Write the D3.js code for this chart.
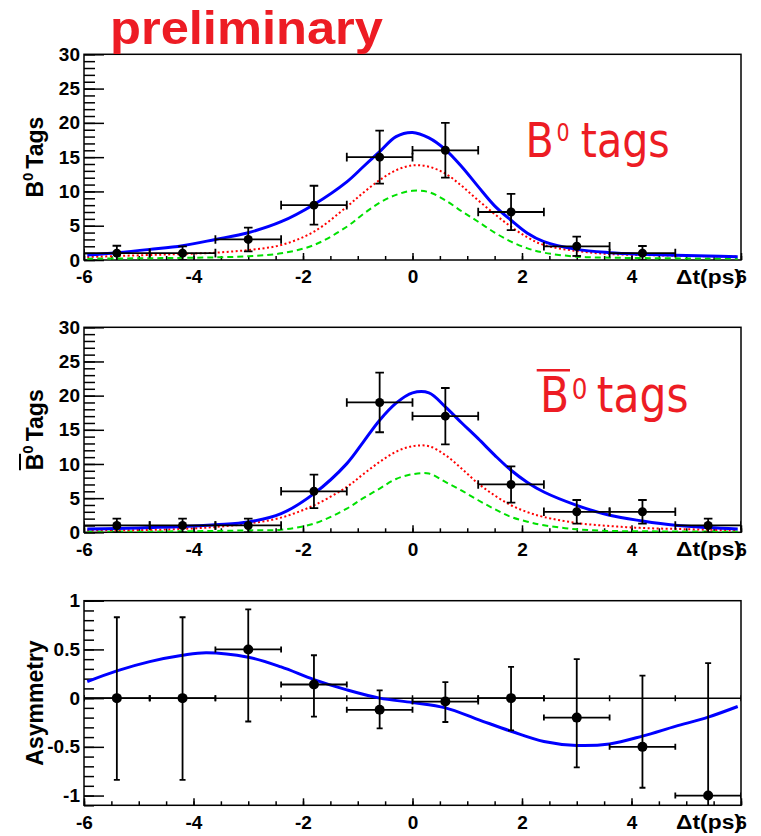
<!DOCTYPE html>
<html>
<head>
<meta charset="utf-8">
<script src="https://cdn.jsdelivr.net/npm/d3@7"></script>
<style>
  body { margin: 0; background: #fff; }
  svg { display: block; font-family: "Liberation Sans", Arial, sans-serif; }
  .tick text { font-family: "Liberation Sans", Arial, sans-serif; font-weight: bold; font-size: 19px; fill: #000; }
  .tick line { stroke: #000; stroke-width: 1.5; }
</style>
</head>
<body>
<svg id="chart" width="761" height="836"></svg>
<script>
// ---- data ----
const binCenters = [-5.4, -4.2, -3.0, -1.8, -0.6, 0.6, 1.8, 3.0, 4.2, 5.4];
const binXErr = 0.6;

// B0 tags (top)
const b0Counts = [1, 1, 3, 8, 15, 16, 7, 2, 1, null];
const b0Err    = [1.08, 1, 1.73, 2.83, 3.87, 4, 2.65, 1.41, 1.04, null];

// B0bar tags (middle)
const b0barCounts = [1, 1, 1, 6, 19, 17, 7, 3, 3, 1];
const b0barErr    = [1, 1, 1, 2.45, 4.36, 4.12, 2.65, 1.73, 1.73, 1];

// asymmetry (bottom)
const asymValues  = [0, 0, 0.5, 0.14, -0.12, -0.035, 0, -0.2, -0.5, -1.0];
const asymErrUp   = [0.83, 0.83, 0.41, 0.30, 0.20, 0.20, 0.32, 0.60, 0.73, 1.36];
const asymErrDown = [0.84, 0.84, 0.74, 0.33, 0.19, 0.21, 0.33, 0.51, 0.42, 0.5];

// fit curves
const curveX = [-5.94, -5.4, -4.8, -4.2, -3.6, -3.0, -2.4, -1.8, -1.2, -0.9, -0.6, -0.3, 0,
                0.3, 0.6, 0.9, 1.2, 1.5, 1.8, 2.1, 2.4, 3.0, 3.6, 4.2, 4.8, 5.4, 5.94];
const b0Total  = [0.73, 1.07, 1.55, 2.09, 3.0, 3.98, 5.58, 8.1, 11.4, 13.6, 15.8, 18.0, 18.6,
                  17.8, 16.1, 13.6, 10.7, 7.9, 5.8, 3.9, 2.67, 1.55, 1.07, 0.83, 0.68, 0.58, 0.49];
const b0Red    = [0.44, 0.58, 0.73, 0.88, 1.07, 1.46, 2.18, 4.13, 7.77, 9.8, 11.65, 13.1, 13.8,
                  13.6, 12.6, 10.8, 8.7, 6.7, 4.85, 3.3, 2.18, 1.31, 0.87, 0.73, 0.63, 0.55, 0.49];
const b0Green  = [0.2, 0.22, 0.26, 0.31, 0.39, 0.55, 0.97, 2.18, 4.85, 6.7, 8.35, 9.5, 10.1,
                  9.9, 8.7, 7.1, 5.58, 4.0, 2.67, 1.7, 1.07, 0.49, 0.34, 0.28, 0.24, 0.22, 0.2];
const b0barTotal = [0.5, 0.55, 0.69, 0.85, 1.12, 1.51, 2.73, 5.66, 10.05, 13.2, 16.4, 18.9, 20.4,
                    20.4, 18.35, 16.0, 13.7, 11.3, 9.08, 7.3, 5.9, 3.95, 2.49, 1.66, 1.03, 0.69, 0.49];
const b0barRed   = [0.3, 0.3, 0.35, 0.5, 0.78, 1.27, 2.15, 3.95, 6.64, 8.5, 10.3, 11.8, 12.6,
                    12.6, 11.3, 9.3, 7.14, 5.4, 3.96, 2.95, 2.24, 1.36, 0.92, 0.63, 0.49, 0.38, 0.29];
const b0barGreen = [0.1, 0.1, 0.12, 0.15, 0.2, 0.28, 0.39, 1.27, 3.47, 5.0, 6.4, 7.8, 8.5,
                    8.6, 7.37, 6.1, 4.69, 3.4, 2.24, 1.55, 1.03, 0.44, 0.2, 0.15, 0.12, 0.1, 0.1];

const asymCurveX = [-5.94, -5.4, -4.8, -4.2, -3.77, -3.0, -2.4, -1.8, -1.2, -0.6, 0, 0.6, 1.2,
                    1.8, 2.4, 3.0, 3.6, 4.2, 4.8, 5.4, 5.94];
const asymCurve  = [0.17, 0.28, 0.375, 0.44, 0.467, 0.42, 0.32, 0.19, 0.085, 0.0, -0.045, -0.10, -0.22,
                    -0.34, -0.445, -0.486, -0.47, -0.39, -0.29, -0.195, -0.086];

// tick labels
const timeTicks = [-6, -4, -2, 0, 2, 4, 6];
const tagTicks  = [0, 5, 10, 15, 20, 25, 30];
const asymTicks = [-1, -0.5, 0, 0.5, 1];

const svg = d3.select('#chart');
const xScale = d3.scaleLinear().domain([-6, 6]).range([84, 741]);

class Panel {
  constructor(_config) {
    this.config = _config;
    this.initVis();
  }

  initVis() {
    let vis = this;
    const c = vis.config;
    const [x0, x1] = xScale.range();

    vis.yScale = d3.scaleLinear().domain(c.yDomain).range([c.bottom, c.top]);
    vis.g = svg.append('g');

    vis.g.append('clipPath').attr('id', 'clip-' + c.id)
      .append('rect')
        .attr('x', x0).attr('y', c.top)
        .attr('width', x1 - x0).attr('height', c.bottom - c.top);

    // minor ticks first, then the labelled ones
    vis.g.append('g')
      .attr('transform', `translate(${x0},0)`)
      .call(d3.axisLeft(vis.yScale).tickValues(vis.yScale.ticks(c.minorCount)).tickSize(-c.yMinorLen).tickFormat(''))
      .call(g => g.select('.domain').remove());
    vis.g.append('g')
      .attr('transform', `translate(${x0},0)`)
      .call(d3.axisLeft(vis.yScale).tickValues(c.yTicks).tickSize(-20).tickPadding(4).tickFormat(d => String(d)))
      .call(g => g.select('.domain').remove());

    vis.g.append('g')
      .attr('transform', `translate(0,${c.bottom})`)
      .call(d3.axisBottom(xScale).tickValues(xScale.ticks(24)).tickSize(-4).tickFormat(''))
      .call(g => g.select('.domain').remove());
    vis.g.append('g')
      .attr('transform', `translate(0,${c.bottom})`)
      .call(d3.axisBottom(xScale).tickValues(timeTicks).tickSize(-7).tickPadding(c.xPad).tickFormat(d => String(d)))
      .call(g => g.select('.domain').remove());

    vis.g.append('rect')
      .attr('x', x0).attr('y', c.top)
      .attr('width', x1 - x0).attr('height', c.bottom - c.top)
      .attr('fill', 'none').attr('stroke', '#000').attr('stroke-width', 1.5);

    // x title
    vis.g.append('text')
      .attr('x', 742).attr('y', c.bottom + c.xPad + 13.5)
      .attr('text-anchor', 'end')
      .attr('font-weight', 'bold').attr('font-size', 20)
      .attr('textLength', 66).attr('lengthAdjust', 'spacingAndGlyphs')
      .text('\u0394t(ps)');

    // y title
    const tg = vis.g.append('g')
      .attr('transform', `translate(43,${(c.top + c.bottom) / 2}) rotate(-90)`);
    const t = tg.append('text')
      .attr('text-anchor', 'middle')
      .attr('font-weight', 'bold').attr('font-size', 23);
    t.append('tspan').text(c.title);
    if (c.titleSup) {
      t.append('tspan').attr('font-size', 15).attr('dy', -10).text(c.titleSup);
      t.append('tspan').attr('dy', 10).attr('dx', 4).text(c.titleRest);
    }
    if (c.overline) {
      const ext = t.node().getExtentOfChar(0);
      tg.append('line')
        .attr('x1', ext.x).attr('x2', ext.x + ext.width)
        .attr('y1', -23).attr('y2', -23)
        .attr('stroke', '#000').attr('stroke-width', 2);
    }

    vis.plot = vis.g.append('g').attr('clip-path', `url(#clip-${c.id})`);
    vis.renderVis();
  }

  renderVis() {
    let vis = this;
    const c = vis.config;
    const y = vis.yScale;

    if (c.zeroLine) {
      vis.plot.append('line')
        .attr('x1', xScale(-6)).attr('x2', xScale(6))
        .attr('y1', y(0)).attr('y2', y(0))
        .attr('stroke', '#000').attr('stroke-width', 1.5);
      // little caps at every bin edge along the zero line
      const edges = Array.from(new Set(binCenters.flatMap(b => [b - binXErr, b + binXErr].map(v => +v.toFixed(2)))));
      vis.plot.selectAll('.zedge').data(edges).join('line')
        .attr('x1', d => xScale(d)).attr('x2', d => xScale(d))
        .attr('y1', y(0) - 3).attr('y2', y(0) + 3)
        .attr('stroke', '#000').attr('stroke-width', 1.5);
    }

    c.curves.forEach(cv => {
      const line = d3.line()
        .x((d, i) => xScale(cv.xs[i]))
        .y(d => y(d))
        .curve(d3.curveCatmullRom.alpha(0.5));
      vis.plot.append('path')
        .datum(cv.ys)
        .attr('d', line)
        .attr('fill', 'none')
        .attr('stroke', cv.color)
        .attr('stroke-width', cv.width)
        .attr('stroke-dasharray', cv.dash || null);
    });

    const pts = binCenters.map((b, i) => ({ x: b, v: c.values[i], up: c.errUp[i], dn: c.errDown[i] }))
      .filter(d => d.v !== null);
    const w = c.cap;
    const inside = yy => yy >= c.top - 0.5 && yy <= c.bottom + 0.5;

    const pg = vis.plot.selectAll('.pt').data(pts).join('g').attr('class', 'pt')
      .attr('stroke', '#000').attr('stroke-width', 1.8);
    pg.append('line')
      .attr('x1', d => xScale(d.x)).attr('x2', d => xScale(d.x))
      .attr('y1', d => y(d.v - d.dn)).attr('y2', d => y(d.v + d.up));
    pg.filter(d => inside(y(d.v + d.up))).append('line')
      .attr('x1', d => xScale(d.x) - w).attr('x2', d => xScale(d.x) + w)
      .attr('y1', d => y(d.v + d.up)).attr('y2', d => y(d.v + d.up));
    pg.filter(d => inside(y(d.v - d.dn))).append('line')
      .attr('x1', d => xScale(d.x) - w).attr('x2', d => xScale(d.x) + w)
      .attr('y1', d => y(d.v - d.dn)).attr('y2', d => y(d.v - d.dn));
    pg.append('line')
      .attr('x1', d => xScale(d.x - binXErr)).attr('x2', d => xScale(d.x + binXErr))
      .attr('y1', d => y(d.v)).attr('y2', d => y(d.v));
    [-1, 1].forEach(s => {
      pg.append('line')
        .attr('x1', d => xScale(d.x + s * binXErr)).attr('x2', d => xScale(d.x + s * binXErr))
        .attr('y1', d => y(d.v) - w).attr('y2', d => y(d.v) + w);
    });
    pg.append('circle')
      .attr('cx', d => xScale(d.x)).attr('cy', d => y(d.v))
      .attr('r', c.r).attr('fill', '#000').attr('stroke', 'none');
  }
}

const blueStyle  = { color: '#0000ff', width: 3 };
const redStyle   = { color: '#ff0000', width: 2, dash: '2,2.5' };
const greenStyle = { color: '#00e000', width: 2, dash: '6,4' };

new Panel({
  id: 'b0', top: 54.3, bottom: 260, yDomain: [0, 30], yTicks: tagTicks, minorCount: 30, yMinorLen: 11,
  xPad: 10, values: b0Counts, errUp: b0Err, errDown: b0Err, r: 4.5, cap: 4.3,
  title: 'B', titleSup: '0', titleRest: 'Tags',
  curves: [
    { xs: curveX, ys: b0Green, ...greenStyle },
    { xs: curveX, ys: b0Red, ...redStyle },
    { xs: curveX, ys: b0Total, ...blueStyle }
  ]
});

new Panel({
  id: 'b0bar', top: 327.3, bottom: 532.3, yDomain: [0, 30], yTicks: tagTicks, minorCount: 30, yMinorLen: 11,
  xPad: 10, values: b0barCounts, errUp: b0barErr, errDown: b0barErr, r: 4.5, cap: 4.3,
  title: 'B', titleSup: '0', titleRest: 'Tags', overline: true,
  curves: [
    { xs: curveX, ys: b0barGreen, ...greenStyle },
    { xs: curveX, ys: b0barRed, ...redStyle },
    { xs: curveX, ys: b0barTotal, ...blueStyle }
  ]
});

new Panel({
  id: 'asym', top: 600.7, bottom: 805.3, yDomain: [-1.1, 1], yTicks: asymTicks, minorCount: 21, yMinorLen: 10,
  xPad: 10, values: asymValues, errUp: asymErrUp, errDown: asymErrDown, r: 5, cap: 3,
  title: 'Asymmetry', zeroLine: true,
  curves: [
    { xs: asymCurveX, ys: asymCurve, ...blueStyle }
  ]
});

// annotations
const red = '#ed1c24';
svg.append('text')
  .attr('x', 110).attr('y', 43.5)
  .attr('font-weight', 'bold').attr('font-size', 46).attr('fill', red)
  .attr('textLength', 273).attr('lengthAdjust', 'spacingAndGlyphs')
  .text('preliminary');

// "B0 tags" as one text, squeezed horizontally to the narrow face of the original
function tagLabel(x, y, size, sx, supSize, supDy, supDx, restDx) {
  const t = svg.append('text')
    .attr('transform', `translate(${x},${y}) scale(${sx},1)`)
    .attr('font-family', '"DejaVu Sans", sans-serif')
    .attr('font-size', size).attr('fill', red);
  t.append('tspan').text('B');
  t.append('tspan').attr('font-size', supSize).attr('dx', supDx).attr('dy', supDy).text('0');
  t.append('tspan').attr('dx', restDx).attr('dy', -supDy).text('tags');
  return t;
}
tagLabel(525.5, 156.7, 48, 0.86, 24, -16, 3, 13);
tagLabel(540, 411.7, 50, 0.85, 29, -13, 3, 11);
svg.append('line')
  .attr('x1', 536.7).attr('x2', 570).attr('y1', 370.3).attr('y2', 370.3)
  .attr('stroke', red).attr('stroke-width', 2.5);
</script>
</body>
</html>
